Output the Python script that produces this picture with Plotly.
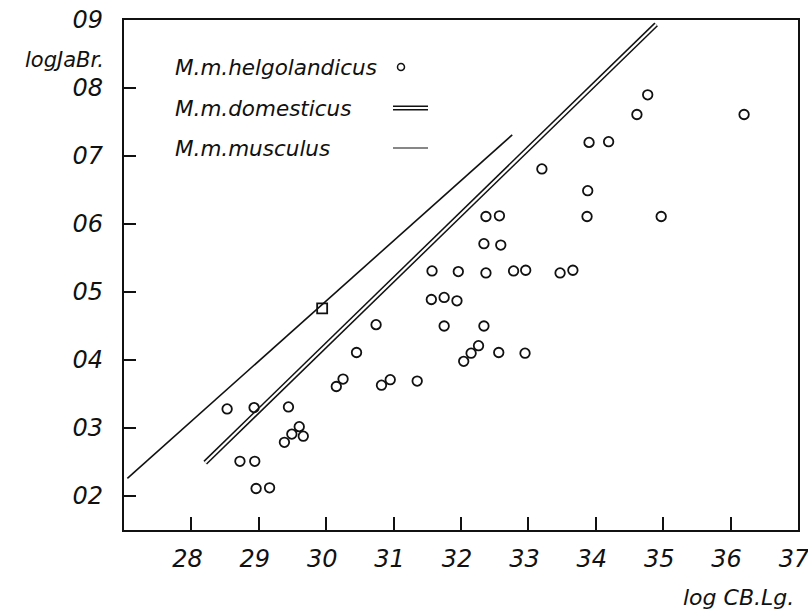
import plotly.graph_objects as go

# M. m. helgolandicus: log condylobasal length vs. log jaw breadth
helgo_x = [28.53, 28.93, 29.44, 29.60, 29.49, 29.66, 29.38, 28.72, 28.94, 28.96,
           29.16, 30.15, 30.25, 30.45, 30.74, 30.82, 30.95, 31.35, 31.57, 31.96,
           31.56, 31.75, 31.94, 31.75, 32.34, 32.37, 32.34, 32.04, 32.15, 32.26,
           32.56, 32.95, 32.37, 32.57, 32.59, 32.78, 32.96, 33.47, 33.66, 33.20,
           33.88, 33.87, 34.97, 33.90, 34.19, 34.61, 34.77, 36.20]
helgo_y = [0.328, 0.330, 0.331, 0.302, 0.291, 0.288, 0.279, 0.251, 0.251, 0.211,
           0.212, 0.361, 0.372, 0.411, 0.452, 0.363, 0.371, 0.369, 0.531, 0.530,
           0.489, 0.492, 0.487, 0.450, 0.571, 0.528, 0.450, 0.398, 0.410, 0.421,
           0.411, 0.410, 0.611, 0.612, 0.569, 0.531, 0.532, 0.528, 0.532, 0.681,
           0.649, 0.611, 0.611, 0.720, 0.721, 0.761, 0.790, 0.761]

# regression line endpoints
domesticus_x = [28.205, 34.895]
domesticus_y = [0.249, 0.8935]
musculus_x = [27.05, 32.76]
musculus_y = [0.226, 0.731]

# single marked point on the musculus line
musculus_pt_x = [29.94]
musculus_pt_y = [0.476]

x_ticks = [28, 29, 30, 31, 32, 33, 34, 35, 36, 37]
x_ticktext = ["28", "29", "30", "31", "32", "33", "34", "35", "36", "37"]
y_ticks = [0.2, 0.3, 0.4, 0.5, 0.6, 0.7, 0.8, 0.9]
y_ticktext = ["02", "03", "04", "05", "06", "07", "08", "09"]

legend_labels = ["M.m.helgolandicus", "M.m.domesticus", "M.m.musculus"]

INK = "#111111"
FONT = dict(family="DejaVu Sans", color=INK, style="italic")

fig = go.Figure()

# domesticus: double line (dark stroke with a light core)
fig.add_trace(go.Scatter(x=domesticus_x, y=domesticus_y, mode="lines",
                         line=dict(color=INK, width=5.2), showlegend=False))
fig.add_trace(go.Scatter(x=domesticus_x, y=domesticus_y, mode="lines",
                         line=dict(color="white", width=2.2), showlegend=False))
# musculus: single line
fig.add_trace(go.Scatter(x=musculus_x, y=musculus_y, mode="lines",
                         line=dict(color=INK, width=1.6), showlegend=False))
fig.add_trace(go.Scatter(x=musculus_pt_x, y=musculus_pt_y, mode="markers",
                         marker=dict(symbol="square-open", size=10, color=INK,
                                     line=dict(width=1.8)),
                         showlegend=False))
# helgolandicus: open circles
fig.add_trace(go.Scatter(x=helgo_x, y=helgo_y, mode="markers",
                         marker=dict(symbol="circle-open", size=9.5, color=INK,
                                     line=dict(width=1.8)),
                         showlegend=False))

# key, drawn in the upper-left corner
L, R, T, B = 124, 10, 20, 84
W, H = 808 - L - R, 614 - T - B


def px_x(p):
    return (p - L) / W


def px_y(p):
    return (614 - B - p) / H


rows = [67, 108, 148]
for lab, yy in zip(legend_labels, rows):
    fig.add_annotation(x=px_x(173), y=px_y(yy), xref="paper", yref="paper",
                       text=lab, showarrow=False, xanchor="left", yanchor="middle",
                       font=dict(size=21.5, **FONT))

fig.add_shape(type="circle", xref="paper", yref="paper",
              xsizemode="pixel", ysizemode="pixel",
              xanchor=px_x(401), yanchor=px_y(rows[0]),
              x0=-3.5, x1=3.5, y0=-3.5, y1=3.5, line=dict(color=INK, width=1.5))
fig.add_shape(type="line", xref="paper", yref="paper",
              x0=px_x(393), x1=px_x(428), y0=px_y(rows[1] - 1.8), y1=px_y(rows[1] - 1.8),
              line=dict(color=INK, width=1.4))
fig.add_shape(type="line", xref="paper", yref="paper",
              x0=px_x(393), x1=px_x(428), y0=px_y(rows[1] + 1.8), y1=px_y(rows[1] + 1.8),
              line=dict(color=INK, width=1.4))
fig.add_shape(type="line", xref="paper", yref="paper",
              x0=px_x(393), x1=px_x(428), y0=px_y(rows[2]), y1=px_y(rows[2]),
              line=dict(color=INK, width=1.1))

# axis titles
fig.add_annotation(x=px_x(106), y=px_y(60), xref="paper", yref="paper",
                   text="logJaBr.", showarrow=False, xanchor="right", yanchor="middle",
                   font=dict(size=21, **FONT))
fig.add_annotation(x=px_x(796), y=px_y(597), xref="paper", yref="paper",
                   text="log CB.Lg.", showarrow=False, xanchor="right", yanchor="middle",
                   font=dict(size=22, **FONT))

fig.update_xaxes(range=[27, 37], tickvals=x_ticks, ticktext=x_ticktext,
                 showgrid=False, zeroline=False,
                 showline=True, linecolor=INK, linewidth=2, mirror=True,
                 ticks="inside", ticklen=13, tickwidth=2, tickcolor=INK,
                 ticklabelstandoff=6, ticklabelshift=-4,
                 ticklabeloverflow="allow",
                 tickfont=dict(size=24, **FONT))
fig.update_yaxes(range=[0.15, 0.9], tickvals=y_ticks, ticktext=y_ticktext,
                 showgrid=False, zeroline=False,
                 showline=True, linecolor=INK, linewidth=2.2, mirror=True,
                 ticks="inside", ticklen=12, tickwidth=1.6, tickcolor=INK,
                 ticklabelstandoff=14, ticklabeloverflow="allow",
                 tickfont=dict(size=24, **FONT))

fig.update_layout(width=808, height=614,
                  margin=dict(l=L, r=R, t=T, b=B, autoexpand=False),
                  paper_bgcolor="white", plot_bgcolor="white",
                  showlegend=False)

fig.write_html("out.html")
